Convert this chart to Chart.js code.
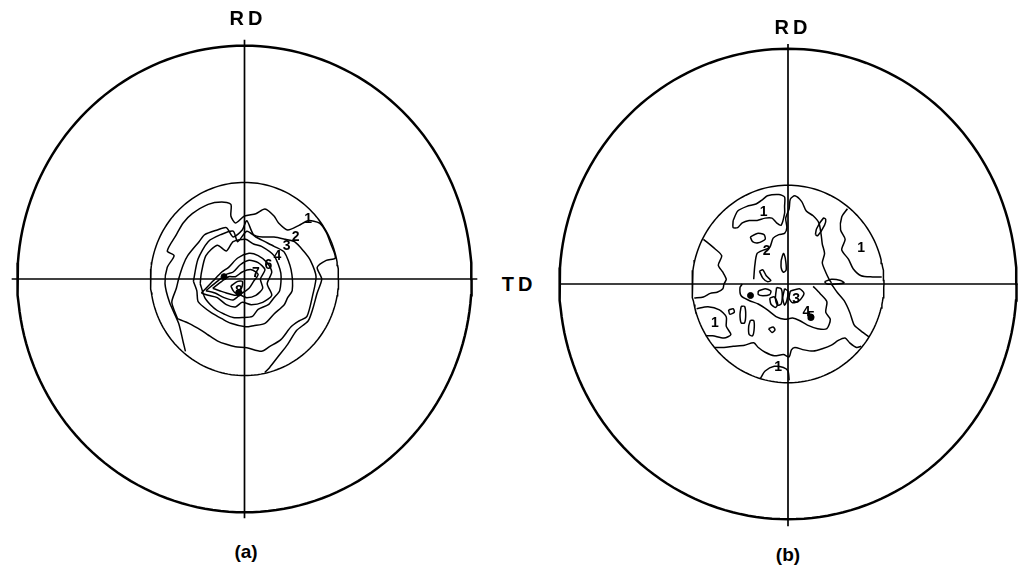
<!DOCTYPE html>
<html>
<head>
<meta charset="utf-8">
<script src="https://cdn.jsdelivr.net/npm/chart.js@4.4.0/dist/chart.umd.min.js"></script>
<style>
  html, body { margin: 0; padding: 0; background: #fff; overflow: hidden; }
  body { width: 1025px; height: 582px; position: relative; font-family: "Liberation Sans", Arial, sans-serif; }
  canvas { position: absolute; }
  .lbl { position: absolute; font-weight: bold; color: #000; transform: translate(-50%, -50%); white-space: nowrap; }
</style>
</head>
<body>
<canvas id="poleA" width="487" height="500" style="left:1px;top:29px"></canvas>
<canvas id="poleB" width="490" height="504" style="left:543px;top:32px"></canvas>
<div class="lbl" style="left:248px;top:18px;font-size:20px;letter-spacing:4px">RD</div>
<div class="lbl" style="left:793px;top:27px;font-size:20px;letter-spacing:4px">RD</div>
<div class="lbl" style="left:519px;top:284px;font-size:20px;letter-spacing:4px">TD</div>
<div class="lbl" style="left:246px;top:552px;font-size:19px">(a)</div>
<div class="lbl" style="left:788px;top:555px;font-size:19px">(b)</div>
<script>
// pole figure units: outer circle radius = 100
const outerRadius = 100;
const innerRadiusA = 41.4;
const innerRadiusB = 42;
const crossA = [-102.5, 102.5];
const crossBx = [-100, 100.5];
const crossBy = [-103, 102];

// (a) contour levels 1..8
const contourA1 = [[-26,-31],[-27,-27],[-29,-19],[-33,-10],[-35,-2],[-34,5],[-31,10],[-34,12],[-30,19],[-27,24],[-23,28],[-16,32],[-10,33],[-6,32],[-6,27],[-4,24],[0,27],[5,28],[9,30],[13,27],[15,24],[19,21],[24,23],[28,25],[33,24],[36,20],[38,15],[40,9],[36,8],[32,5],[34,0],[32,-6],[30,-13],[28,-18],[23,-22],[19,-28],[15,-33],[11,-38],[9,-40]];
const contourA2 = [[-29.5,-17],[-32,-10],[-30,-4],[-29,0],[-27,6],[-25,10],[-20,16],[-17.5,19],[-12,21],[-8,22],[-5,18],[-1,21],[1,25],[4,19],[8,18],[13,18],[18,17],[22,16],[26,12],[29,8],[31.5,1],[30,-7],[27.5,-16],[24,-18],[20.5,-20.5],[16,-26],[11,-29],[7.5,-31],[1,-29.5],[-4,-29],[-8,-28],[-12,-26.5],[-16,-24],[-19,-22],[-24.5,-19],[-29.5,-17]];
const contourA3 = [[-22.5,-1],[-20.5,8.5],[-16,16],[-10.5,19],[-5,20.5],[-3,16],[1,20.5],[5,18],[9,16],[13,14],[17.5,11.5],[20.5,4],[21,-5],[19,-8],[17.5,-11],[13,-15],[9,-19],[4,-20],[0.5,-20.5],[-6,-19],[-10,-17],[-14.5,-14.5],[-18,-12],[-20.5,-9.5],[-21,-5],[-22.5,-1]];
const contourA4 = [[-19.5,-2],[-19,2.5],[-17,10],[-12,14.5],[-8,12],[-5,16],[0.5,17],[4,15],[7.5,14],[13,10],[16,2.5],[15.5,-5],[13,-8],[10.5,-11],[6,-13],[3.5,-16],[-1,-16.5],[-5,-16.5],[-9,-15],[-12,-13.5],[-15,-11],[-17.5,-8],[-19.5,-2]];
const contourA5 = [[-19,-6],[-14,-1],[-10,3],[-7,5],[-3,9],[2,11],[6,10],[10,7],[12,3],[10,-2],[12,-7],[8,-10],[3,-11],[-1,-10],[-4,-12],[-8,-11],[-12,-8],[-16,-7],[-19,-6]];
const contourA6 = [[-17,-5],[-12,-1],[-8,2],[-5,3],[-2,6],[2,8],[6,7],[9,4],[7,0],[8,-4],[5,-7],[1,-8],[-2,-7],[-5,-9],[-9,-8],[-13,-6],[-17,-5]];
const contourA7 = [[-14,-4],[-10,-1],[-7,1],[-4,1],[-1,3],[3,4],[6,2],[4,-1],[2,-4],[-1,-6],[-4,-7],[-8,-6],[-11,-5],[-14,-4]];
const contourA8 = [[-6,-3],[-3,-1],[-1,-1],[-1,-3],[-2,-5],[-4,-6],[-5,-5],[-6,-3]];
const labelsA = [['1',28,25.5],['2',22.5,18],['3',18.5,14],['4',14.5,10],['6',10.5,6],['7',5,2.5],['8',-2.5,-5]];
const dotsA = [[-9,1],[-2.5,-6]];

// (b) contours
const contoursB = [
  [[-24,27],[-22,31],[-18,33],[-14,34],[-11,36],[-9,37.5],[-4,38],[-1.5,37],[-1.5,33],[-1.5,30],[-3,25],[-5,26],[-7,28],[-10,28],[-13.5,27],[-17,27],[-20,26],[-22,24],[-24,24],[-24,27]],
  [[-16.5,20],[-13.5,21.5],[-10.5,21],[-10,19],[-13,17.5],[-15.5,18],[-16.5,20]],
  [[-15,2],[-14.5,8],[-13.5,13],[-10.5,14.5],[-8,15.5],[-6.5,19.5],[-4,21],[-1.5,21.5],[-0.5,24],[-1,28],[0.5,32],[1,36],[3,37.5],[6,35],[8,31],[11,29],[13.5,26],[14.5,21],[15,17],[16,13],[15,9],[16.5,5],[18,2],[19,0.5]],
  [[-37,19],[-32,15],[-29,12],[-30.5,8],[-28.5,5],[-27,2],[-28,0],[-28.5,-2],[-31,-3.5],[-34,-4],[-37,-5.5],[-41,-6]],
  [[-40,-10.5],[-35,-9.7],[-30,-11],[-27,-14],[-27,-18],[-25,-21.5],[-28,-23],[-33,-22],[-36,-22]],
  [[-32,-27],[-28,-27],[-24,-26.5],[-19,-26],[-15,-25],[-13,-27],[-10,-29],[-6,-30.5],[-2,-30],[0.5,-31],[1.5,-28],[3,-27],[7,-28],[11,-28.5],[15,-27.5],[19,-26],[22,-24],[25,-23],[27,-25],[30,-27],[32,-26.5]],
  [[-12,-40],[-10,-37],[-6,-35],[-2,-35.5],[0,-37],[0.5,-41]],
  [[26,32],[23.5,28.5],[23,23],[25,19],[23.5,14.5],[26.5,10.5],[28.5,6.5],[32,3.5],[37,3],[41,3]],
  [[19,0],[21.5,-3.5],[24.5,-7],[27,-12],[29,-17.5],[32,-20],[35.5,-22.5]],
  [[11,-1],[14,-4],[17,-7.5],[16.5,-12],[18.5,-15],[17,-19],[13,-19],[8.5,-17.5],[5,-15.5],[2,-14.5],[-1.5,-15],[-5,-14],[-9,-11],[-13,-8.5],[-17,-7],[-20.5,-5],[-21,-1.5],[-20,0]],
  [[-13,-3],[-10,-2],[-7.5,-3],[-8,-4.5],[-11,-5],[-13,-4.5],[-13,-3]],
  [[-5,-1.5],[-3,-2],[-2.5,-5],[-3,-8.5],[-4.5,-9],[-5.5,-6],[-5,-1.5]],
  [[-1.5,-2],[0,-3],[-0.5,-7],[-1.5,-9],[-2.3,-6],[-1.5,-2]],
  [[-8,-6],[-6,-5.5],[-4.5,-8.5],[-5.5,-10],[-7.5,-8.5],[-8,-6]],
  [[-26,-11],[-24,-10.5],[-23.5,-12],[-25.5,-12.8],[-26,-11]],
  [[-20.5,-9.5],[-19,-9.5],[-18.5,-13],[-19,-16.5],[-20.5,-16.5],[-21,-13],[-20.5,-9.5]],
  [[-16.5,-15.5],[-15,-15.5],[-14.8,-19],[-15.5,-22],[-17,-21.5],[-17.2,-18],[-16.5,-15.5]],
  [[-8.5,-19],[-6.5,-18.3],[-5.7,-19.5],[-7,-20.6],[-8.5,-19]],
  [[12,21],[13,20.5],[16,25],[16.5,27.5],[15.5,28],[12.5,23.5],[12,21]],
  [[-3,10],[-2,13],[-1.2,11],[-0.8,6],[-2,5],[-3,7],[-3,10]],
  [[1,-3],[5,-2],[7,-4],[5,-7],[2,-8],[0.5,-6],[1,-3]],
  [[16,1],[19,2],[23,1.5],[24.5,0.5],[21,0],[17,0],[16,1]],
  [[-12.5,5.5],[-11,6],[-9.5,3.5],[-7.5,1.5],[-9,1],[-11,2.5],[-12.5,5.5]]
];
const labelsB = [['1',-10.7,30.6],['2',-9.3,14],['1',32,15.3],['1',-32,-16.7],['1',-4.3,-35.4],['3',3.6,-6.5],['4',8,-12],['5',10,-14]];
const dotsB = [[-16.4,-4.9],[10,-14]];

const ink = '#000';

function circlePoints(r) {
  const pts = [];
  for (let i = 0; i <= 180; i++) {
    const t = i / 180 * Math.PI * 2;
    pts.push({ x: r * Math.cos(t), y: r * Math.sin(t) });
  }
  return pts;
}

function lineSet(points, width, tension) {
  return {
    data: points,
    showLine: true,
    borderColor: ink,
    borderWidth: width,
    pointRadius: 0,
    tension: tension || 0,
    fill: false
  };
}

function toXY(list) {
  return list.map(([x, y]) => ({ x, y }));
}

// contour level numbers written next to their lines
function numberPlugin(items) {
  return {
    id: 'numberLabels',
    afterDatasetsDraw(chart) {
      const { ctx, scales: { x, y } } = chart;
      ctx.save();
      ctx.font = 'bold 14px "Liberation Sans", Arial, sans-serif';
      ctx.fillStyle = ink;
      ctx.textAlign = 'center';
      ctx.textBaseline = 'middle';
      items.forEach(([t, vx, vy]) => ctx.fillText(t, x.getPixelForValue(vx), y.getPixelForValue(vy)));
      ctx.restore();
    }
  };
}

function drawPole(id, innerR, contours, labels, dots, spanX, spanY) {
  const datasets = [
    lineSet(circlePoints(outerRadius), 2.5),
    lineSet(circlePoints(innerR), 1.5),
    lineSet([{ x: spanX[0], y: 0 }, { x: spanX[1], y: 0 }], 1.7),
    lineSet([{ x: 0, y: spanY[0] }, { x: 0, y: spanY[1] }], 1.7)
  ];
  contours.forEach(c => datasets.push(lineSet(toXY(c), 1.5, 0.25)));
  datasets.push({
    data: toXY(dots),
    pointRadius: 3,
    backgroundColor: ink,
    borderColor: ink
  });

  new Chart(document.getElementById(id), {
    type: 'scatter',
    data: { datasets },
    options: {
      responsive: false,
      animation: false,
      events: [],
      layout: { padding: 0 },
      plugins: { legend: { display: false }, tooltip: { enabled: false } },
      scales: {
        x: { type: 'linear', min: -105, max: 105, display: false },
        y: { type: 'linear', min: -105, max: 105, display: false }
      }
    },
    plugins: [numberPlugin(labels)]
  });
}

drawPole('poleA', innerRadiusA,
  [contourA1, contourA2, contourA3, contourA4, contourA5, contourA6, contourA7, contourA8],
  labelsA, dotsA, crossA, crossA);
drawPole('poleB', innerRadiusB, contoursB, labelsB, dotsB, crossBx, crossBy);
</script>
</body>
</html>
